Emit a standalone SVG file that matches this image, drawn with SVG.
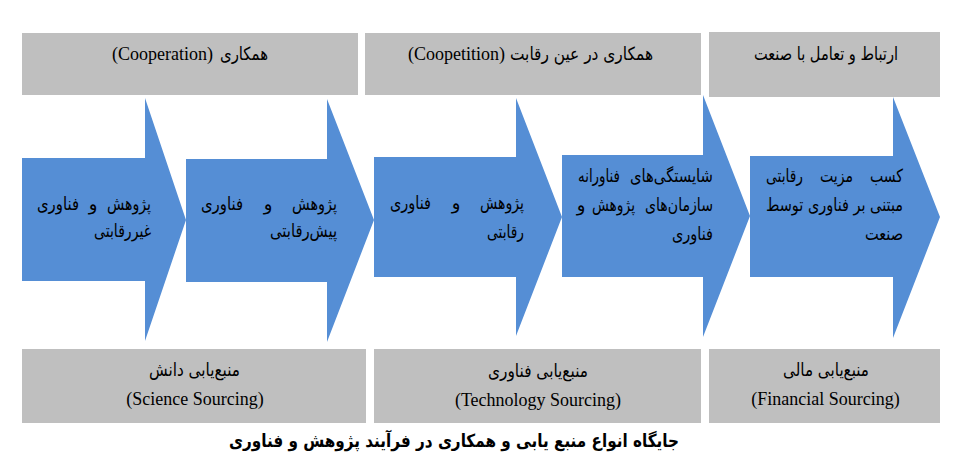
<svg xmlns="http://www.w3.org/2000/svg" width="973" height="473" viewBox="0 0 973 473">
<style>
.box{fill:#BFBFBF}
.arrow{fill:#558ED5}
.en{font-family:"Liberation Serif","Times New Roman",serif;font-size:18px;fill:#000}
.fa{font-family:"DejaVu Sans","Noto Sans",sans-serif;font-size:18px;fill:#000}
.fb{font-family:"DejaVu Sans","Noto Sans",sans-serif;font-size:18px;fill:#000}
.cap{font-family:"DejaVu Sans","Noto Sans",sans-serif;font-size:18px;font-weight:bold;fill:#000}
</style>
<rect width="973" height="473" fill="#fff"/>
<g id="connectors"></g>
<g id="top-cooperation">
<rect class="box" x="22" y="33" width="336" height="62"/>
<text class="en" x="213" y="60" text-anchor="end">(Cooperation)</text>
<text class="fa" x="268" y="60" text-anchor="end" textLength="48" lengthAdjust="spacingAndGlyphs">همکاری</text>
</g>
<g id="top-coopetition">
<rect class="box" x="365" y="33" width="336" height="62"/>
<text class="en" x="505" y="60" text-anchor="end">(Coopetition)</text>
<text class="fa" x="653" y="60" text-anchor="end" textLength="143" lengthAdjust="spacingAndGlyphs">همکاری در عین رقابت</text>
</g>
<g id="top-industry">
<rect class="box" x="709" y="32" width="231" height="65"/>
<text class="fa" x="898" y="60" text-anchor="end" textLength="144" lengthAdjust="spacingAndGlyphs">ارتباط و تعامل با صنعت</text>
</g>
<g id="arrow1">
<polygon class="arrow" points="22,158 145,158 145,98 186,220 145,341 145,281 22,281"/>
<text class="fb" x="151" y="210" text-anchor="end" textLength="44" lengthAdjust="spacingAndGlyphs">پژوهش</text>
<text class="fb" x="93" y="210" text-anchor="middle">و</text>
<text class="fb" x="37" y="210" textLength="42" lengthAdjust="spacingAndGlyphs">فناوری</text>
<text class="fb" x="151" y="237" text-anchor="end" textLength="57" lengthAdjust="spacingAndGlyphs">غیررقابتی</text>
</g>
<g id="arrow2">
<polygon class="arrow" points="186,159 327,159 327,99 374,220 327,342 327,282 186,282"/>
<text class="fb" x="337" y="210" text-anchor="end" textLength="45" lengthAdjust="spacingAndGlyphs">پژوهش</text>
<text class="fb" x="268" y="210" text-anchor="middle">و</text>
<text class="fb" x="201" y="210" textLength="42" lengthAdjust="spacingAndGlyphs">فناوری</text>
<text class="fb" x="337" y="237" text-anchor="end" textLength="67" lengthAdjust="spacingAndGlyphs">پیش‌رقابتی</text>
</g>
<g id="arrow3">
<polygon class="arrow" points="374,157 516,157 516,98 562,217 516,336 516,277 374,277"/>
<text class="fb" x="524" y="209" text-anchor="end" textLength="44" lengthAdjust="spacingAndGlyphs">پژوهش</text>
<text class="fb" x="456" y="209" text-anchor="middle">و</text>
<text class="fb" x="390" y="209" textLength="41" lengthAdjust="spacingAndGlyphs">فناوری</text>
<text class="fb" x="524" y="238" text-anchor="end" textLength="37" lengthAdjust="spacingAndGlyphs">رقابتی</text>
</g>
<g id="arrow4">
<polygon class="arrow" points="562,155 703,155 703,95 750,216 703,337 703,277 562,277"/>
<text class="fb" x="713" y="182" text-anchor="end" textLength="83" lengthAdjust="spacingAndGlyphs">شایستگی‌های</text>
<text class="fb" x="578" y="182" textLength="42" lengthAdjust="spacingAndGlyphs">فناورانه</text>
<text class="fb" x="713" y="211" text-anchor="end" textLength="68" lengthAdjust="spacingAndGlyphs">سازمان‌های</text>
<text class="fb" x="635" y="211" text-anchor="end" textLength="43" lengthAdjust="spacingAndGlyphs">پژوهش</text>
<text class="fb" x="581" y="211" text-anchor="middle">و</text>
<text class="fb" x="713" y="240" text-anchor="end" textLength="41" lengthAdjust="spacingAndGlyphs">فناوری</text>
</g>
<g id="arrow5">
<polygon class="arrow" points="750,156 893,156 893,97 940,217 893,338 893,277 750,277"/>
<text class="fb" x="903" y="182" text-anchor="end" textLength="33" lengthAdjust="spacingAndGlyphs">کسب</text>
<text class="fb" x="853" y="182" text-anchor="end" textLength="33" lengthAdjust="spacingAndGlyphs">مزیت</text>
<text class="fb" x="766" y="182" textLength="37" lengthAdjust="spacingAndGlyphs">رقابتی</text>
<text class="fb" x="903" y="211" text-anchor="end" textLength="137" lengthAdjust="spacingAndGlyphs">مبتنی بر فناوری توسط</text>
<text class="fb" x="903" y="240" text-anchor="end" textLength="38" lengthAdjust="spacingAndGlyphs">صنعت</text>
</g>
<g id="bottom-science">
<rect class="box" x="22" y="349" width="344" height="74"/>
<text class="fa" x="240" y="376" text-anchor="end" textLength="91" lengthAdjust="spacingAndGlyphs">منبع‌یابی دانش</text>
<text class="en" x="195" y="405" text-anchor="middle">(Science Sourcing)</text>
</g>
<g id="bottom-technology">
<rect class="box" x="374" y="349" width="327" height="74"/>
<text class="fa" x="588" y="377" text-anchor="end" textLength="100" lengthAdjust="spacingAndGlyphs">منبع‌یابی فناوری</text>
<text class="en" x="538" y="406" text-anchor="middle">(Technology Sourcing)</text>
</g>
<g id="bottom-financial">
<rect class="box" x="709" y="349" width="231" height="74"/>
<text class="fa" x="869" y="376" text-anchor="end" textLength="86" lengthAdjust="spacingAndGlyphs">منبع‌یابی مالی</text>
<text class="en" x="825.5" y="405" text-anchor="middle">(Financial Sourcing)</text>
</g>
<g id="caption">
<text class="cap" x="679" y="447" text-anchor="end" textLength="450" lengthAdjust="spacingAndGlyphs">جایگاه انواع منبع یابی و همکاری در فرآیند پژوهش و فناوری</text>
</g>
</svg>
